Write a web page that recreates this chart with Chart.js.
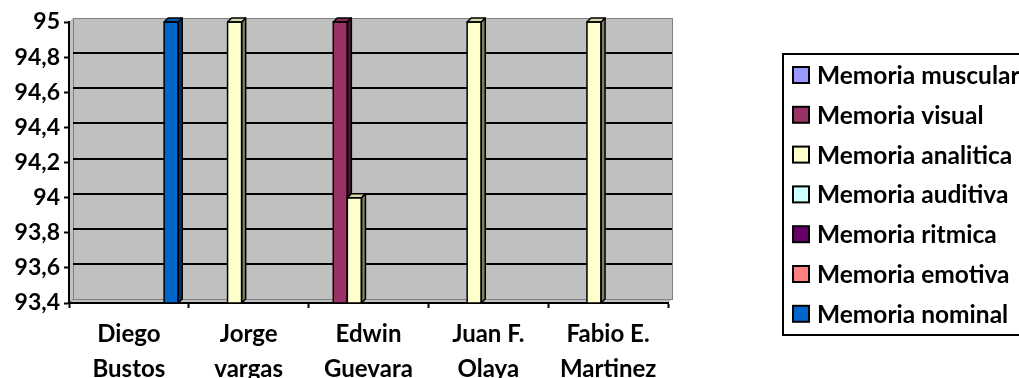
<!DOCTYPE html>
<html>
<head>
<meta charset="utf-8">
<script src="https://cdn.jsdelivr.net/npm/chart.js@4/dist/chart.umd.min.js"></script>
<style>
  html, body { margin: 0; padding: 0; background: #ffffff; overflow: hidden; }
  canvas { display: block; }
</style>
</head>
<body>
<canvas id="chart" width="1019" height="378"></canvas>
<script>
// Students (categories), each label split over two lines
const students = [
  ['Diego', 'Bustos'],
  ['Jorge', 'vargas'],
  ['Edwin', 'Guevara'],
  ['Juan F.', 'Olaya'],
  ['Fabio E.', 'Martinez']
];

// Memory types (series names)
const seriesNames = [
  'Memoria muscular',
  'Memoria visual',
  'Memoria analitica',
  'Memoria auditiva',
  'Memoria ritmica',
  'Memoria emotiva',
  'Memoria nominal'
];

// Scores per memory type, one entry per student (null = no bar)
const muscular  = [null, null, null, null, null];
const visual    = [null, null, 95,   null, null];
const analitica = [null, 95,   94,   95,   95];
const auditiva  = [null, null, null, null, null];
const ritmica   = [null, null, null, null, null];
const emotiva   = [null, null, null, null, null];
const nominal   = [95,   null, null, null, null];

const seriesValues = [muscular, visual, analitica, auditiva, ritmica, emotiva, nominal];

// Value axis range and tick step
const yMin = 93.4;
const yMax = 95;
const yStep = 0.2;

// Classic office palette
const seriesColors = ['#9999FF', '#993366', '#FFFFCC', '#CCFFFF', '#660066', '#FF8080', '#0066CC'];

const FONT = 'Lato, "Open Sans", sans-serif';
const DEPTH_X = 4;
const DEPTH_Y = 4;

function shade(hex, f) {
  const n = parseInt(hex.slice(1), 16);
  const r = Math.round(((n >> 16) & 255) * f);
  const g = Math.round(((n >> 8) & 255) * f);
  const b = Math.round((n & 255) * f);
  return `rgb(${r},${g},${b})`;
}

// Grey back wall, side wall and floor with black gridlines
const wallPlugin = {
  id: 'wall',
  beforeDraw(chart) {
    const { ctx, chartArea: a, scales: { y } } = chart;
    const dx = DEPTH_X, dy = DEPTH_Y;
    ctx.save();
    ctx.fillStyle = '#C0C0C0';
    // floor
    ctx.beginPath();
    ctx.moveTo(a.left, a.bottom);
    ctx.lineTo(a.left + dx, a.bottom - dy);
    ctx.lineTo(a.right + dx, a.bottom - dy);
    ctx.lineTo(a.right, a.bottom);
    ctx.closePath();
    ctx.fill();
    // side wall
    ctx.beginPath();
    ctx.moveTo(a.left, a.top);
    ctx.lineTo(a.left + dx, a.top - dy);
    ctx.lineTo(a.left + dx, a.bottom - dy);
    ctx.lineTo(a.left, a.bottom);
    ctx.closePath();
    ctx.fill();
    // back wall
    ctx.fillRect(a.left + dx, a.top - dy, a.right - a.left, a.bottom - a.top);
    ctx.strokeStyle = '#808080';
    ctx.lineWidth = 1;
    ctx.strokeRect(a.left + dx + 0.5, a.top - dy + 0.5, a.right - a.left, a.bottom - a.top);
    ctx.beginPath();
    ctx.moveTo(a.left + dx, a.bottom - dy + 0.5);
    ctx.lineTo(a.left, a.bottom);
    ctx.stroke();
    // gridlines
    ctx.strokeStyle = '#000000';
    ctx.lineWidth = 2;
    y.ticks.forEach(t => {
      if (t.value <= yMin + 1e-6 || t.value >= yMax - 1e-6) return;
      const py = Math.round(y.getPixelForValue(t.value)) - dy;
      ctx.beginPath();
      ctx.moveTo(a.left + dx, py);
      ctx.lineTo(a.right + dx, py);
      ctx.stroke();
    });
    ctx.restore();
  }
};

// Side and top faces on each bar, redrawn left to right so neighbours overlap correctly
const depthPlugin = {
  id: 'depth',
  afterDatasetsDraw(chart) {
    const { ctx, chartArea: a } = chart;
    const dx = DEPTH_X, dy = DEPTH_Y;
    ctx.save();
    ctx.beginPath();
    ctx.rect(a.left, a.top - dy - 2, a.right - a.left + dx + 2, a.bottom - a.top + dy + 2);
    ctx.clip();
    chart.data.datasets.forEach((ds, i) => {
      const meta = chart.getDatasetMeta(i);
      meta.data.forEach((bar, j) => {
        if (ds.data[j] == null) return;
        bar.draw(ctx);
        const p = bar.getProps(['x', 'y', 'base', 'width'], true);
        const l = p.x - p.width / 2, r = p.x + p.width / 2;
        const base = Math.min(p.base, a.bottom);
        ctx.lineWidth = 1.5;
        ctx.strokeStyle = '#000000';
        ctx.lineJoin = 'round';
        // right side face
        ctx.fillStyle = shade(seriesColors[i], 0.5);
        ctx.beginPath();
        ctx.moveTo(r, p.y);
        ctx.lineTo(r + dx, p.y - dy);
        ctx.lineTo(r + dx, base - dy);
        ctx.lineTo(r, base);
        ctx.closePath();
        ctx.fill();
        ctx.stroke();
        // top face
        ctx.fillStyle = shade(seriesColors[i], 0.85);
        ctx.beginPath();
        ctx.moveTo(l, p.y);
        ctx.lineTo(l + dx, p.y - dy);
        ctx.lineTo(r + dx, p.y - dy);
        ctx.lineTo(r, p.y);
        ctx.closePath();
        ctx.fill();
        ctx.stroke();
        // front outline
        ctx.strokeRect(l, p.y, r - l, base - p.y);
      });
    });
    ctx.restore();
  }
};

// Boxed legend to the right of the plot
const legendPlugin = {
  id: 'boxLegend',
  afterDraw(chart) {
    const { ctx } = chart;
    const bx = 783, by = 54, bw = 320, bh = 281;
    const rowTop = 75, rowGap = 39.8;
    ctx.save();
    ctx.strokeStyle = '#000000';
    ctx.lineWidth = 2;
    ctx.strokeRect(bx, by, bw, bh);
    ctx.font = `bold 24.5px ${FONT}`;
    ctx.textBaseline = 'middle';
    ctx.textAlign = 'left';
    chart.data.datasets.forEach((ds, i) => {
      const cy = rowTop + i * rowGap;
      ctx.fillStyle = seriesColors[i];
      ctx.fillRect(793, cy - 8, 16, 16);
      ctx.strokeRect(793, cy - 8, 16, 16);
      ctx.fillStyle = '#000000';
      ctx.fillText(ds.label, 817, cy + 1);
    });
    ctx.restore();
  }
};

const datasets = seriesNames.map((name, i) => ({
  label: name,
  data: seriesValues[i],
  backgroundColor: seriesColors[i],
  borderColor: '#000000',
  borderWidth: 0,
  categoryPercentage: 7 / 8.5,
  barPercentage: 1
}));

new Chart(document.getElementById('chart'), {
  type: 'bar',
  data: { labels: students, datasets },
  plugins: [wallPlugin, depthPlugin, legendPlugin],
  options: {
    responsive: false,
    animation: false,
    layout: { padding: { left: 0, right: 351, top: 22, bottom: 0 } },
    plugins: {
      legend: { display: false },
      tooltip: { enabled: false }
    },
    scales: {
      x: {
        offset: true,
        grid: {
          offset: true,
          drawOnChartArea: false,
          drawTicks: true,
          tickLength: 5,
          tickWidth: 2,
          color: '#000000'
        },
        border: { display: true, color: '#000000', width: 2 },
        ticks: {
          color: '#000000',
          font: { family: FONT, size: 24, weight: 'bold', lineHeight: 1.45 },
          padding: 9,
          maxRotation: 0,
          autoSkip: false
        },
        afterFit(scale) { scale.height = 75; }
      },
      y: {
        min: yMin,
        max: yMax,
        grid: {
          drawOnChartArea: false,
          drawTicks: true,
          tickLength: 5,
          tickWidth: 2,
          color: '#000000'
        },
        border: { display: true, color: '#000000', width: 2 },
        ticks: {
          stepSize: yStep,
          color: '#000000',
          padding: 4,
          font: { family: FONT, size: 23, weight: 'bold' },
          callback: v => String(Math.round(v * 10) / 10).replace('.', ',')
        },
        afterFit(scale) { scale.width = 69; }
      }
    }
  }
});
</script>
</body>
</html>
